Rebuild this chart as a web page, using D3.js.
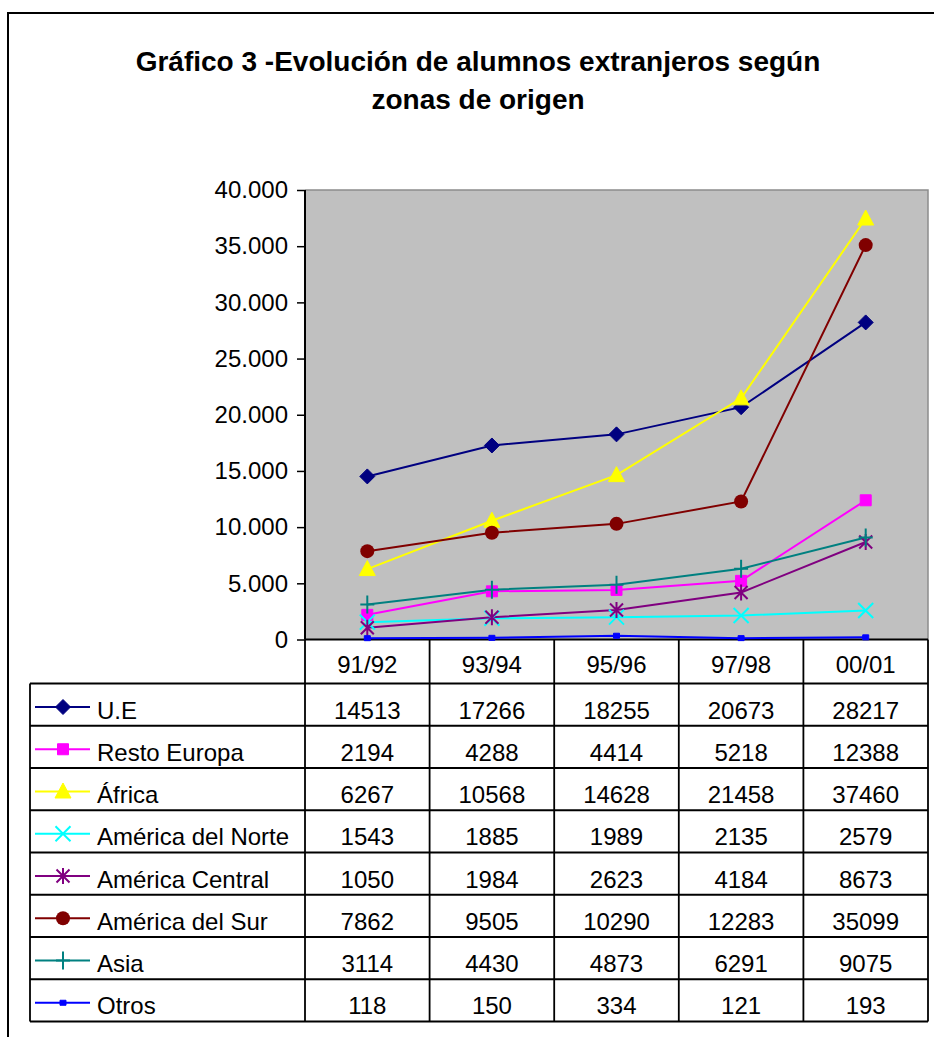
<!DOCTYPE html>
<html>
<head>
<meta charset="utf-8">
<script src="https://cdn.jsdelivr.net/npm/d3@7/dist/d3.min.js"></script>
<style>
  body { margin: 0; background: #fff; }
  text { font-family: "Liberation Sans", Arial, sans-serif; fill: #000; }
</style>
</head>
<body>
<svg width="934" height="1037"></svg>
<script>
const svg = d3.select('svg');
const width = +svg.attr('width');
const height = +svg.attr('height');

// data
const titleLines = ['Gráfico 3 -Evolución de alumnos extranjeros según', 'zonas de origen'];
const years = ['91/92', '93/94', '95/96', '97/98', '00/01'];
const seriesNames = ['U.E', 'Resto Europa', 'África', 'América del Norte', 'América Central', 'América del Sur', 'Asia', 'Otros'];
const ue = [14513, 17266, 18255, 20673, 28217];
const restoEuropa = [2194, 4288, 4414, 5218, 12388];
const africa = [6267, 10568, 14628, 21458, 37460];
const americaNorte = [1543, 1885, 1989, 2135, 2579];
const americaCentral = [1050, 1984, 2623, 4184, 8673];
const americaSur = [7862, 9505, 10290, 12283, 35099];
const asia = [3114, 4430, 4873, 6291, 9075];
const otros = [118, 150, 334, 121, 193];
const yTicks = [0, 5000, 10000, 15000, 20000, 25000, 30000, 35000, 40000];

const colors = ['#000080', '#FF00FF', '#FFFF00', '#00FFFF', '#800080', '#800000', '#008080', '#0000FF'];
const markers = ['diamond', 'square', 'triangle', 'x', 'star', 'circle', 'plus', 'dash'];

const series = seriesNames.map((name, i) => ({
  name: name,
  values: [ue, restoEuropa, africa, americaNorte, americaCentral, americaSur, asia, otros][i],
  color: colors[i],
  marker: markers[i]
}));

const plot = {left: 305, right: 928, top: 190, bottom: 639.5};
const table = {left: 30, headerBottom: 683.5, rowH: 42.25};

const nf = d3.formatLocale({decimal: ',', thousands: '.', grouping: [3], currency: ['', '']}).format(',d');

const x = d3.scaleBand().domain(years).range([plot.left, plot.right]).padding(0);
const y = d3.scaleLinear().domain([0, 40000]).range([plot.bottom, plot.top]);
const cx = d => x(d) + x.bandwidth() / 2;

// outer frame
svg.append('rect').attr('width', width).attr('height', height).attr('fill', '#fff');
svg.append('path')
  .attr('d', `M8,${height + 5}V13H${width + 5}`)
  .attr('fill', 'none').attr('stroke', '#000').attr('stroke-width', 2);

// title
svg.append('g').selectAll('text').data(titleLines).join('text')
  .attr('x', 478).attr('y', (d, i) => 71 + i * 38)
  .attr('text-anchor', 'middle')
  .style('font-size', '28px').style('font-weight', 'bold')
  .text(d => d);

// plot area
svg.append('rect')
  .attr('x', plot.left).attr('y', plot.top)
  .attr('width', plot.right - plot.left).attr('height', plot.bottom - plot.top)
  .attr('fill', '#C0C0C0');
svg.append('path')
  .attr('d', `M${plot.left},${plot.top}H${plot.right}V${plot.bottom}`)
  .attr('fill', 'none').attr('stroke', '#8c8c8c').attr('stroke-width', 1.5);

// y axis
const yAxis = svg.append('g')
  .attr('transform', `translate(${plot.left},0)`)
  .call(d3.axisLeft(y).tickValues(yTicks).tickFormat(nf).tickSize(8).tickPadding(9));
yAxis.select('.domain').attr('stroke', '#000').attr('stroke-width', 2)
  .attr('d', `M0,${plot.top}V${plot.bottom}`);
yAxis.selectAll('.tick line').attr('stroke', '#000').attr('stroke-width', 1.5);
yAxis.selectAll('.tick text')
  .style('font-family', '"Liberation Sans", Arial, sans-serif')
  .style('font-size', '24px').attr('fill', '#000');

// data table grid
const rowsBottom = table.headerBottom + table.rowH * series.length;
const grid = svg.append('g').attr('stroke', '#000').attr('stroke-width', 1.8).attr('fill', 'none');
grid.selectAll('.hl').data(d3.range(series.length + 1)).join('line')
  .attr('x1', table.left).attr('x2', plot.right)
  .attr('y1', i => table.headerBottom + i * table.rowH)
  .attr('y2', i => table.headerBottom + i * table.rowH);
grid.append('line')
  .attr('x1', table.left).attr('x2', table.left)
  .attr('y1', table.headerBottom).attr('y2', rowsBottom);
grid.selectAll('.vl').data(years.map(d => x(d)).concat([plot.right])).join('line')
  .attr('x1', d => d).attr('x2', d => d)
  .attr('y1', plot.bottom).attr('y2', rowsBottom);
grid.append('line')
  .attr('x1', plot.left).attr('x2', plot.right)
  .attr('y1', plot.bottom).attr('y2', plot.bottom).attr('stroke-width', 2.2);

// header row
svg.append('g').selectAll('text').data(years).join('text')
  .attr('x', cx).attr('y', plot.bottom + 33)
  .attr('text-anchor', 'middle').style('font-size', '24px')
  .text(d => d);

// marker shapes
function markerPath(type) {
  switch (type) {
    case 'diamond': return 'M0,-7.5L7.5,0L0,7.5L-7.5,0Z';
    case 'square': return 'M-5.5,-5.5H5.5V5.5H-5.5Z';
    case 'triangle': return 'M0,-8.5L8,6.5H-8Z';
    case 'x': return 'M-7.5,-7.5L7.5,7.5M-7.5,7.5L7.5,-7.5';
    case 'star': return 'M-6.5,-6.5L6.5,6.5M-6.5,6.5L6.5,-6.5M0,-8V8';
    case 'plus': return 'M0,-9V9M-7,0H7';
    case 'dash': return 'M-3,-2.5H3V2.5H-3Z';
  }
}
function drawMarker(g, s) {
  if (s.marker === 'circle') {
    g.append('circle').attr('r', 7).attr('fill', s.color);
  } else if (['x', 'star', 'plus'].includes(s.marker)) {
    g.append('path').attr('d', markerPath(s.marker))
      .attr('fill', 'none').attr('stroke', s.color).attr('stroke-width', 2);
  } else {
    g.append('path').attr('d', markerPath(s.marker)).attr('fill', s.color)
      .attr('stroke', s.color).attr('stroke-width', 1);
  }
}

// lines
const line = d3.line().x((d, i) => cx(years[i])).y(d => y(d));
const lines = svg.append('g');
series.forEach(s => {
  lines.append('path').datum(s.values)
    .attr('d', line)
    .attr('fill', 'none').attr('stroke', s.color).attr('stroke-width', 2);
});
series.forEach(s => {
  s.values.forEach((v, i) => {
    const g = lines.append('g').attr('transform', `translate(${cx(years[i])},${y(v)})`);
    drawMarker(g, s);
  });
});

// table rows
series.forEach((s, r) => {
  const top = table.headerBottom + r * table.rowH;
  const row = svg.append('g');
  row.append('line')
    .attr('x1', 35).attr('x2', 90).attr('y1', top + 23.5).attr('y2', top + 23.5)
    .attr('stroke', s.color).attr('stroke-width', 2);
  drawMarker(row.append('g').attr('transform', `translate(63,${top + 23.5})`), s);
  row.append('text').attr('x', 97).attr('y', top + 35)
    .style('font-size', '24px').text(s.name);
  row.selectAll('.val').data(s.values).join('text')
    .attr('x', (d, i) => cx(years[i])).attr('y', top + 35)
    .attr('text-anchor', 'middle').style('font-size', '24px')
    .text(d => d);
});
</script>
</body>
</html>
